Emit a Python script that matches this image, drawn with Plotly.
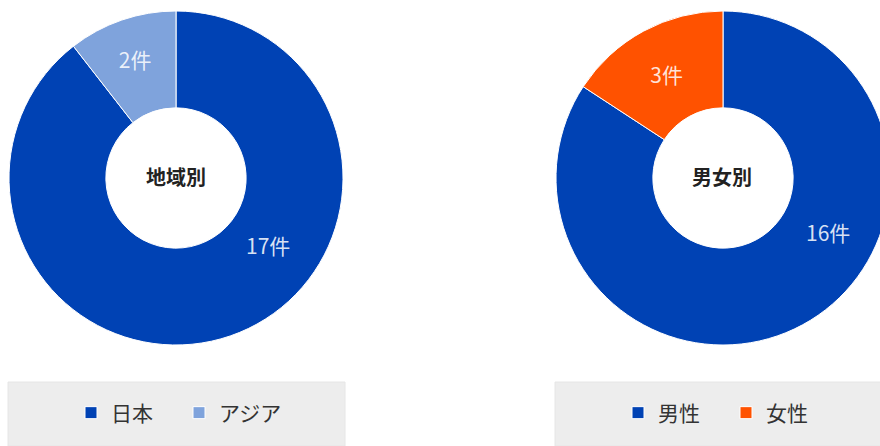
import plotly.graph_objects as go

# Region breakdown
region_labels = ["日本", "アジア"]
region_values = [17, 2]
region_colors = ["#0042B4", "#7FA3DC"]
region_title = "地域別"

# Gender breakdown
gender_labels = ["男性", "女性"]
gender_values = [16, 3]
gender_colors = ["#0042B4", "#FF5200"]
gender_title = "男女別"

unit = "件"

W, H = 890, 446
FONT = "Noto Sans CJK JP"
TEXT_COLOR = "rgba(255,255,255,0.85)"


def px(x):
    return x / W


def py(y):
    return 1 - y / H


def donut(labels, values, colors, x0, x1, legend):
    return go.Pie(
        labels=labels,
        values=values,
        hole=0.42,
        sort=False,
        direction="clockwise",
        rotation=0,
        marker=dict(colors=colors, line=dict(color="white", width=1)),
        texttemplate=["", "%{value}" + unit],
        textposition="inside",
        insidetextorientation="horizontal",
        textfont=dict(family=FONT, size=21, color=TEXT_COLOR),
        domain=dict(x=[x0, x1], y=[py(345), py(11)]),
        legend=legend,
        hoverinfo="label+value",
    )


fig = go.Figure()
fig.add_trace(donut(region_labels, region_values, region_colors, px(9), px(343), "legend"))
fig.add_trace(donut(gender_labels, gender_values, gender_colors, px(556), 1.0, "legend2"))

legend_style = dict(
    orientation="h",
    xanchor="center",
    yanchor="middle",
    y=py(413),
    bgcolor="rgba(0,0,0,0)",
    font=dict(family=FONT, size=21, color="#333333"),
    entrywidth=63,
    itemwidth=30,
    itemclick=False,
)


def label(x, y, text, size, color):
    return dict(x=px(x), y=py(y), xref="paper", yref="paper", showarrow=False,
                xanchor="center", yanchor="middle", text=text,
                font=dict(family=FONT, size=size, color=color))


fig.update_layout(
    width=W,
    height=H,
    margin=dict(l=0, r=0, t=0, b=0),
    paper_bgcolor="white",
    plot_bgcolor="white",
    showlegend=True,
    legend=dict(x=px(179), **legend_style),
    legend2=dict(x=px(726), **legend_style),
    shapes=[
        dict(type="rect", xref="paper", yref="paper",
             x0=px(8), x1=px(345), y0=py(446), y1=py(382),
             fillcolor="#EDEDED", line=dict(color="#E6E6E6", width=1), layer="below"),
        dict(type="rect", xref="paper", yref="paper",
             x0=px(555), x1=1.0, y0=py(446), y1=py(382),
             fillcolor="#EDEDED", line=dict(color="#E6E6E6", width=1), layer="below"),
    ],
    annotations=[
        label(176, 177, "<b>" + region_title + "</b>", 20, "#222222"),
        label(722, 177, "<b>" + gender_title + "</b>", 20, "#222222"),
        label(268, 245, f"{region_values[0]}{unit}", 21, TEXT_COLOR),
        label(828, 232, f"{gender_values[0]}{unit}", 21, TEXT_COLOR),
    ],
)

fig.write_html(
    "out.html",
    config={"displayModeBar": False},
    post_script="document.documentElement.style.overflow='hidden';document.body.style.overflow='hidden';",
)
